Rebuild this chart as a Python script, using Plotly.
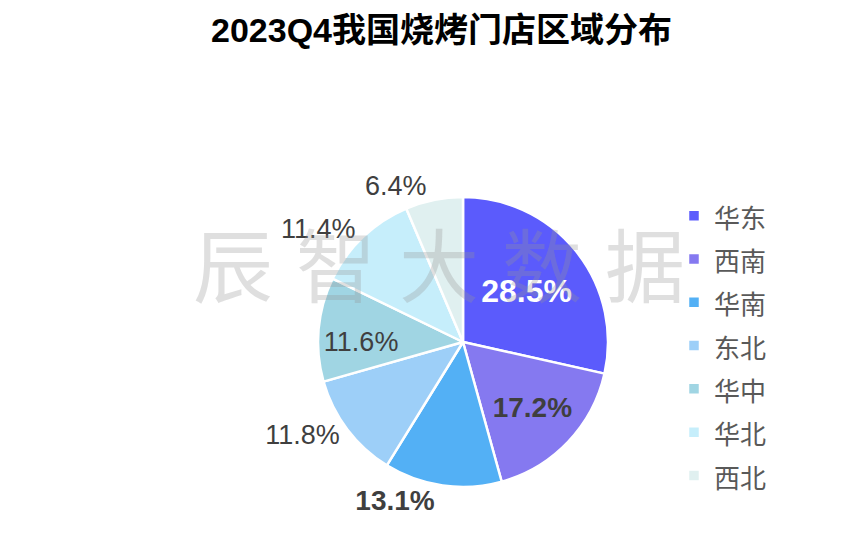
import plotly.graph_objects as go

regions = ["华东", "西南", "华南", "东北", "华中", "华北", "西北"]
shares = [28.5, 17.2, 13.1, 11.8, 11.6, 11.4, 6.4]
colors = ["#5B5BFC", "#8579F0", "#53B0F5", "#9DCFF8", "#A0D5E3", "#C6EEFB", "#E0F0F0"]
label_pos = ["inside", "inside", "outside", "outside", "inside", "outside", "outside"]
label_bold = [True, True, True, False, False, False, False]
label_sizes = [32, 28, 28, 27, 27, 27, 27]
label_colors = ["#FFFFFF", "#3F3F3F", "#3F3F3F", "#3F3F3F", "#3F3F3F", "#3F3F3F", "#3F3F3F"]
title_text = "2023Q4我国烧烤门店区域分布"
watermark_chars = ["辰", "智", "大", "数", "据"]

W, H = 867, 539
FONT = "Liberation Sans, Arial, Noto Sans CJK SC, sans-serif"

texts = [("<b>%.1f%%</b>" % v) if b else ("%.1f%%" % v) for v, b in zip(shares, label_bold)]
legend_labels = ["<span style='font-size:26px'>%s</span>" % r for r in regions]

fig = go.Figure(go.Pie(
    labels=legend_labels,
    values=shares,
    text=texts,
    textinfo="text",
    hoverinfo="label+percent",
    sort=False,
    direction="clockwise",
    rotation=0,
    marker=dict(colors=colors, line=dict(color="#FFFFFF", width=2.5)),
    textposition=label_pos,
    textfont=dict(family=FONT, size=label_sizes, color=label_colors),
    insidetextorientation="horizontal",
    domain=dict(x=[310 / W, 600 / W], y=[1 - 479 / H, 1 - 189 / H]),
))

annotations = []
for i, ch in enumerate(watermark_chars):
    annotations.append(dict(
        text=ch, xref="paper", yref="paper",
        x=(225 + 103 * i) / W, y=1 - 253 / H,
        xanchor="center", yanchor="middle", showarrow=False,
        font=dict(family="Noto Sans CJK SC, sans-serif", size=80, color="rgba(150,150,150,0.3)"),
    ))

fig.update_layout(
    width=W, height=H,
    margin=dict(l=0, r=0, t=0, b=0),
    paper_bgcolor="#FFFFFF",
    plot_bgcolor="#FFFFFF",
    title=dict(text="<b>" + title_text + "</b>", x=0.5, xanchor="center", y=1 - 22 / H, yanchor="middle",
               font=dict(family="Liberation Sans, Noto Sans CJK SC, sans-serif", size=34, color="#000000")),
    showlegend=True,
    legend=dict(x=666 / W, y=1 - 181 / H, xanchor="left", yanchor="top",
                font=dict(family="Noto Sans CJK SC, sans-serif", size=31, color="#595959"),
                bgcolor="rgba(0,0,0,0)"),
    annotations=annotations,
)

fig.write_html("out.html")
